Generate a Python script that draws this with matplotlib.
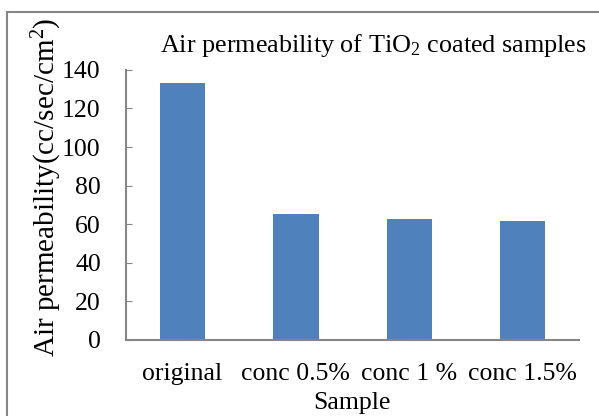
import matplotlib
matplotlib.use("Agg")
import matplotlib.pyplot as plt
import numpy as np
from matplotlib.patches import Rectangle

# 데이터
samples = ["original", "conc 0.5%", "conc 1 %", "conc 1.5%"]
permeability = [133.0, 65.5, 62.5, 61.5]
yticks = [0, 20, 40, 60, 80, 100, 120, 140]

plt.rcParams["font.family"] = ["Liberation Serif", "DejaVu Serif"]
plt.rcParams["mathtext.fontset"] = "custom"
plt.rcParams["mathtext.rm"] = "Liberation Serif"
plt.rcParams["mathtext.it"] = "Liberation Serif:italic"

grey = "#868686"

fig = plt.figure(figsize=(5.99, 4.16), dpi=100)
ax = fig.add_axes([0.210, 0.183, 0.757, 0.649])

x = np.arange(len(samples))
ax.bar(x, permeability, width=0.4, color="#4F81BD")

ax.set_xlim(-0.5, len(samples) - 0.5)
ax.set_ylim(0, 140)
ax.set_yticks(yticks)
ax.set_xticks(x)
ax.set_xticklabels(samples, fontsize=18.5)
ax.tick_params(axis="y", direction="in", length=4.5, color=grey, labelsize=18.5, pad=18)
ax.tick_params(axis="x", length=0, pad=17)

for side in ["top", "right"]:
    ax.spines[side].set_visible(False)
for side in ["left", "bottom"]:
    ax.spines[side].set_color(grey)
    ax.spines[side].set_linewidth(1.5)

# 제목, 축 이름
fig.text(0.623, 0.890, "Air permeability of TiO$_2$ coated samples",
         ha="center", va="center", fontsize=18.8)
fig.text(0.078, 0.55, "Air permeability(cc/sec/cm$^2$)", rotation=90,
         ha="center", va="center", fontsize=21)
fig.text(0.588, 0.031, "Sample", ha="center", va="center", fontsize=18.5)

# 차트 테두리
fig.patches.append(Rectangle((0.012, -0.02), 1.1, 0.991, transform=fig.transFigure,
                             fill=False, edgecolor=grey, linewidth=1.5))

fig.savefig("out.png", dpi=100)
